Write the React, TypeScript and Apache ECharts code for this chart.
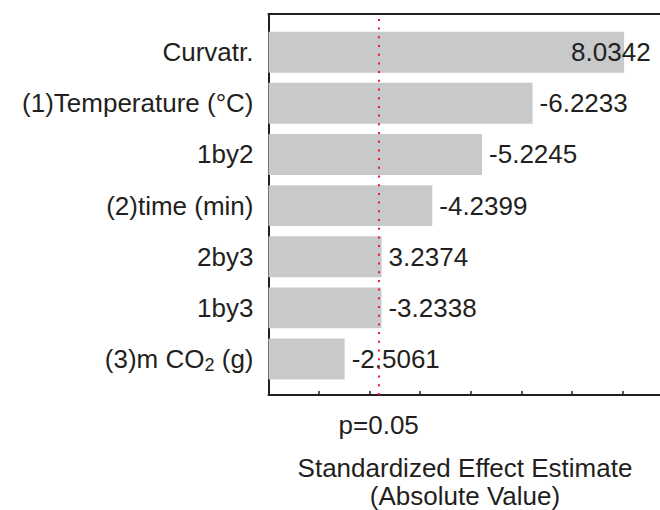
import React, { useEffect, useRef } from "react";
import * as echarts from "echarts";

// Pareto chart of standardized effects
const factors = [
  "Curvatr.",
  "(1)Temperature (°C)",
  "1by2",
  "(2)time (min)",
  "2by3",
  "1by3",
  "(3)m CO2 (g)",
];
const effects = [8.0342, -6.2233, -5.2245, -4.2399, 3.2374, -3.2338, -2.5061];
const criticalT = 3.182; // t(0.975, df = 3)
const criticalLabel = "p=0.05";
const axisTitle = ["Standardized Effect Estimate", "(Absolute Value)"];
const xMin = 1;
const xMax = 9;

const FONT = '"Liberation Sans", Arial, Helvetica, sans-serif';
const INK = "#231f20";
const BAR = "#c8c9cb";
const RED = "#ee1c25";

export default function App() {
  const ref = useRef<HTMLDivElement>(null);

  useEffect(() => {
    if (!ref.current) return;
    const chart = echarts.init(ref.current, null, { renderer: "svg" });

    const left = 268.5;
    const width = 404.4;

    const barData = effects.map((v, i) => {
      const item: any = { value: Math.abs(v) };
      if (i === 0) item.label = { offset: [-60, 0] };
      return item;
    });

    chart.setOption({
      animation: false,
      backgroundColor: "#ffffff",
      textStyle: { fontFamily: FONT },
      grid: [
        { left, top: 14, width, height: 381, containLabel: false, outerBoundsMode: "none" },
        { left, top: 26.6, width, height: 358, containLabel: false, outerBoundsMode: "none" },
      ],
      xAxis: [
        {
          gridIndex: 0,
          type: "value",
          position: "bottom",
          min: xMin,
          max: xMax,
          interval: 1,
          axisLine: { show: true, lineStyle: { color: INK, width: 2 } },
          axisTick: { show: true, inside: true, length: 4, lineStyle: { color: INK, width: 1.5 } },
          axisLabel: { show: false },
          splitLine: { show: false },
        },
        {
          gridIndex: 0,
          type: "value",
          position: "top",
          min: xMin,
          max: xMax,
          axisLine: { show: true, lineStyle: { color: INK, width: 2 } },
          axisTick: { show: false },
          axisLabel: { show: false },
          splitLine: { show: false },
        },
        {
          gridIndex: 1,
          type: "value",
          min: xMin,
          max: xMax,
          show: false,
        },
      ],
      yAxis: [
        {
          gridIndex: 0,
          type: "value",
          min: 0,
          max: 1,
          position: "left",
          axisLine: { show: true, lineStyle: { color: INK, width: 2 } },
          axisTick: { show: false },
          axisLabel: { show: false },
          splitLine: { show: false },
        },
        {
          gridIndex: 1,
          type: "category",
          data: factors,
          inverse: true,
          axisLine: { show: false },
          axisTick: {
            show: true,
            inside: true,
            alignWithLabel: true,
            length: 5,
            lineStyle: { color: INK, width: 1.5 },
          },
          axisLabel: {
            margin: 15,
            fontSize: 26,
            color: INK,
            fontFamily: FONT,
            formatter: (s: string) => s.replace("CO2", "CO{sub|2}"),
            rich: {
              sub: {
                fontSize: 18,
                color: INK,
                fontFamily: FONT,
                padding: [12, 0, 0, 0],
              },
            },
          },
          splitLine: { show: false },
        },
      ],
      series: [
        {
          type: "bar",
          xAxisIndex: 2,
          yAxisIndex: 1,
          data: barData,
          barCategoryGap: "20%",
          clip: true,
          itemStyle: { color: BAR },
          label: {
            show: true,
            position: "right",
            distance: 7,
            fontSize: 26,
            color: INK,
            fontFamily: FONT,
            formatter: (p: any) => effects[p.dataIndex].toFixed(4),
          },
        },
        {
          type: "line",
          xAxisIndex: 0,
          yAxisIndex: 0,
          data: [],
          markLine: {
            silent: true,
            symbol: ["none", "none"],
            lineStyle: { color: RED, width: 2, type: [2, 6.7], cap: "butt" },
            label: {
              show: true,
              position: "start",
              distance: 17,
              formatter: criticalLabel,
              fontSize: 26,
              color: INK,
              fontFamily: FONT,
            },
            data: [{ xAxis: criticalT }],
          },
        },
      ],
      graphic: [
        {
          type: "text",
          x: 465,
          y: 454,
          silent: true,
          style: {
            text: axisTitle.join("\n"),
            fill: INK,
            fontSize: 26,
            fontFamily: FONT,
            align: "center",
            verticalAlign: "top",
            lineHeight: 28,
          },
        },
      ],
    });

    return () => chart.dispose();
  }, []);

  return (
    <div
      ref={ref}
      style={{ position: "fixed", left: 0, top: 0, width: 660, height: 510, background: "#fff" }}
    />
  );
}
